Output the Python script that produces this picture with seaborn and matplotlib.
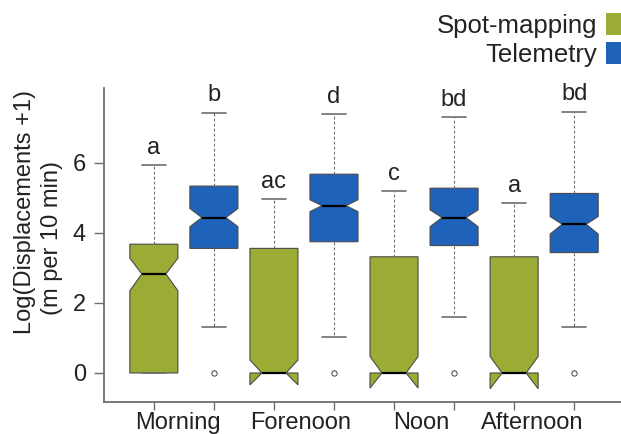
import matplotlib
matplotlib.use("Agg")

import numpy as np
import matplotlib.pyplot as plt
import seaborn as sns
from matplotlib.patches import Patch

sns.set_theme(style="ticks")
plt.rcParams["font.family"] = ["Liberation Sans", "DejaVu Sans"]

# Dados: log(deslocamentos + 1), m por 10 min
periodos = ["Morning", "Forenoon", "Noon", "Afternoon"]
metodos = ["Spot-mapping", "Telemetry"]
cores = {"Spot-mapping": "#9bab34", "Telemetry": "#1f62ba"}

# ordem: Morning-Spot, Morning-Tele, Forenoon-Spot, ...
mediana = [2.83, 4.44, 0.00, 4.78, 0.00, 4.44, 0.00, 4.25]
q1 = [0.00, 3.56, 0.00, 3.75, 0.00, 3.64, 0.00, 3.44]
q3 = [3.68, 5.34, 3.56, 5.68, 3.32, 5.28, 3.32, 5.13]
bigode_inf = [0.00, 1.32, 0.00, 1.04, 0.00, 1.61, 0.00, 1.31]
bigode_sup = [5.94, 7.44, 4.96, 7.39, 5.20, 7.32, 4.85, 7.47]
ic_inf = [2.35, 4.18, -0.34, 4.61, -0.43, 4.18, -0.45, 3.97]
ic_sup = [3.28, 4.70, 0.37, 4.95, 0.47, 4.66, 0.47, 4.47]
outliers = [[], [0.0], [], [0.0], [], [0.0], [], [0.0]]
letras = ["a", "b", "ac", "d", "c", "bd", "a", "bd"]

stats = []
for i in range(len(mediana)):
    stats.append(dict(med=mediana[i], q1=q1[i], q3=q3[i],
                      whislo=bigode_inf[i], whishi=bigode_sup[i],
                      cilo=ic_inf[i], cihi=ic_sup[i], fliers=outliers[i]))

posicoes = np.arange(len(stats))
cinza = "#6e6e6e"
texto = "#222222"

fig = plt.figure(figsize=(6.21, 4.34), dpi=100)
ax = fig.add_axes([0.1675, 0.0737, 0.8325, 0.7233])

caixas = ax.bxp(stats, positions=posicoes, widths=0.8, shownotches=True,
                patch_artist=True, manage_ticks=False,
                boxprops=dict(edgecolor="#4a4a4a", linewidth=0.8),
                medianprops=dict(color="black", linewidth=1.6),
                whiskerprops=dict(color=cinza, linewidth=0.8, linestyle=(0, (2.5, 2))),
                capprops=dict(color=cinza, linewidth=1.2),
                flierprops=dict(marker="o", markersize=3.8, markerfacecolor="white",
                                markeredgecolor="#555555", markeredgewidth=0.8))
for i, caixa in enumerate(caixas["boxes"]):
    caixa.set_facecolor(cores[metodos[i % 2]])

for p, topo, letra in zip(posicoes, bigode_sup, letras):
    ax.text(p, topo + 0.32, letra, ha="center", va="baseline", fontsize=17, color=texto)

ax.set_xlim(-0.83, 7.78)
ax.set_ylim(-0.83, 8.14)
ax.set_yticks([0, 2, 4, 6])
ax.set_xticks(posicoes, [""] * len(posicoes))
ax.set_xticks([0.4, 2.45, 4.45, 6.3], periodos, minor=True)
ax.tick_params(axis="x", which="major", length=6, width=1, color=cinza)
ax.tick_params(axis="x", which="minor", length=0, pad=7, labelsize=17, labelcolor=texto)
ax.tick_params(axis="y", length=7, width=1, color=cinza, labelsize=17, labelcolor=texto, pad=6)

sns.despine(ax=ax)
for lado in ["left", "bottom"]:
    ax.spines[lado].set_color(cinza)
    ax.spines[lado].set_linewidth(1.3)

# rótulo do eixo y em duas linhas, como no original
ax.text(-0.152, 0.605, "Log(Displacements +1)", transform=ax.transAxes, rotation=90,
        ha="center", va="center", fontsize=17, color=texto)
ax.text(-0.10, 0.522, "(m per 10 min)", transform=ax.transAxes, rotation=90,
        ha="center", va="center", fontsize=17, color=texto)

alcas = [Patch(facecolor=cores[m], edgecolor="none") for m in metodos]
fig.legend(alcas, metodos, loc="upper right", bbox_to_anchor=(1.036, 1.0),
           frameon=False, markerfirst=False, fontsize=18.5, handlelength=0.95,
           handleheight=0.95, handletextpad=0.35, labelspacing=0.15, borderpad=0,
           labelcolor=texto)

fig.savefig("out.png", dpi=100)
